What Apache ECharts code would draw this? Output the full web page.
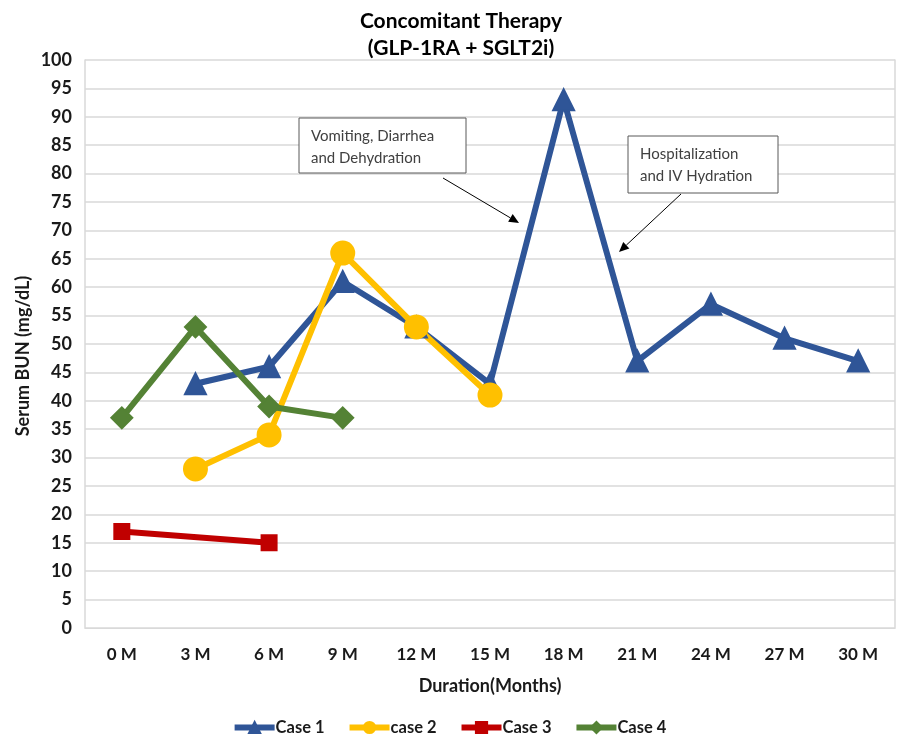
<!DOCTYPE html>
<html>
<head>
<meta charset="utf-8">
<script src="https://cdn.jsdelivr.net/npm/echarts@6/dist/echarts.min.js"></script>
<style>
  html, body { margin: 0; padding: 0; background: #ffffff; }
  #chart { width: 898px; height: 743px; }
</style>
</head>
<body>
<div id="chart"></div>
<script>
// Follow-up months
const months = ['0 M', '3 M', '6 M', '9 M', '12 M', '15 M', '18 M', '21 M', '24 M', '27 M', '30 M'];
// Serum BUN (mg/dL) per case; null = no measurement
const case1 = [null, 43, 46, 61, 53, 43, 93, 47, 57, 51, 47];
const case2 = [null, 28, 34, 66, 53, 41, null, null, null, null, null];
const case3 = [17, null, 15, null, null, null, null, null, null, null, null];
const case4 = [37, 53, 39, 37, null, null, null, null, null, null, null];
const yTicks = { min: 0, max: 100, step: 5 };

const FONT = 'Lato, "Noto Sans", sans-serif';
const TXT = '#1a1a1a';
const GRID_LINE = '#d9d9d9';

const chart = echarts.init(document.getElementById('chart'), null, { renderer: 'canvas' });

const diamond = 'path://M0,-1L1,0L0,1L-1,0Z';

function series(name, data, color, symbol, size, connect) {
  return {
    name, type: 'line', data,
    connectNulls: connect,
    symbol, symbolSize: size,
    lineStyle: { color, width: 6 },
    itemStyle: { color, borderColor: color, borderWidth: 2 },
    emphasis: { disabled: true },
    animation: false
  };
}

chart.setOption({
  backgroundColor: '#ffffff',
  title: {
    text: 'Concomitant Therapy\n(GLP-1RA + SGLT2i)',
    left: 456, top: 3, textAlign: 'center',
    textStyle: { fontFamily: FONT, fontSize: 21, fontWeight: 'bold', color: '#000', lineHeight: 27 }
  },
  grid: { left: 85, right: 3, top: 60, bottom: 115 },
  legend: {
    bottom: 2, left: 'center',
    itemWidth: 40, itemHeight: 14, itemGap: 22,
    lineStyle: { width: 6 },
    textStyle: { fontFamily: FONT, fontSize: 16.5, fontWeight: 'bold', color: TXT, padding: [0, 0, 0, -4] },
    data: ['Case 1', 'case 2', 'Case 3', 'Case 4']
  },
  xAxis: {
    type: 'category', data: months, boundaryGap: true,
    axisTick: { show: false, length: 0 },
    splitLine: { show: false, lineStyle: { opacity: 0, width: 0 } },
    splitArea: { show: false },
    minorSplitLine: { show: false },
    axisLine: { lineStyle: { color: GRID_LINE } },
    axisLabel: { fontFamily: FONT, fontSize: 17, fontWeight: 'bold', color: TXT, margin: 18 },
    name: 'Duration(Months)', nameLocation: 'middle', nameGap: 49,
    nameTextStyle: { fontFamily: FONT, fontSize: 18, fontWeight: 'bold', color: TXT }
  },
  yAxis: [{
    type: 'value', min: yTicks.min, max: yTicks.max, interval: yTicks.step,
    axisLine: { show: true, lineStyle: { color: GRID_LINE, width: 1.5 } }, axisTick: { show: false },
    splitLine: { lineStyle: { color: GRID_LINE, width: 1.5 } },
    axisLabel: { fontFamily: FONT, fontSize: 18, fontWeight: 'bold', color: TXT, margin: 13 }
  }, {
    // right-hand frame edge only
    type: 'value', position: 'right', min: yTicks.min, max: yTicks.max, interval: yTicks.step,
    axisLine: { show: true, lineStyle: { color: GRID_LINE, width: 1.5 } },
    axisTick: { show: false }, axisLabel: { show: false }, splitLine: { show: false }
  }],
  series: [
    series('Case 1', case1, '#2f5597', 'triangle', 21, false),
    series('case 2', case2, '#ffc000', 'circle', 23, false),
    series('Case 3', case3, '#c00000', 'rect', 15, true),
    series('Case 4', case4, '#548235', diamond, 21, false)
  ]
});

// Callout boxes with arrows pointing at the 18 M spike
function arrow(x1, y1, x2, y2) {
  const a = Math.atan2(y2 - y1, x2 - x1);
  const L = 10, W = 4.5;
  const bx = x2 - L * Math.cos(a), by = y2 - L * Math.sin(a);
  const nx = -Math.sin(a), ny = Math.cos(a);
  return [
    { type: 'line', shape: { x1, y1, x2: bx, y2: by }, style: { stroke: '#000', lineWidth: 1 }, z: 10 },
    { type: 'polygon', shape: { points: [[x2, y2], [bx + nx * W, by + ny * W], [bx - nx * W, by - ny * W]] },
      style: { fill: '#000' }, z: 10 }
  ];
}

function box(x, y, w, h, text) {
  return [
    { type: 'rect', shape: { x, y, width: w, height: h }, style: { fill: '#fff', stroke: '#595959', lineWidth: 1 }, z: 10 },
    { type: 'text', x: x + 12, y: y + 7, style: { text, fill: '#404040', font: '15px ' + FONT, lineHeight: 22 }, z: 11 }
  ];
}

chart.setOption({
  graphic: [
    {
      type: 'text', x: 23, y: 356, rotation: Math.PI / 2,
      style: { text: 'Serum BUN (mg/dL)', fill: TXT, font: 'bold 18px ' + FONT, align: 'center', verticalAlign: 'middle' }
    },
    ...box(299, 118, 167, 55, 'Vomiting, Diarrhea\nand Dehydration'),
    ...arrow(443, 178, 519, 223),
    ...box(628, 136, 150, 57, 'Hospitalization\nand IV Hydration'),
    ...arrow(681, 194, 619, 252)
  ]
});
</script>
</body>
</html>
